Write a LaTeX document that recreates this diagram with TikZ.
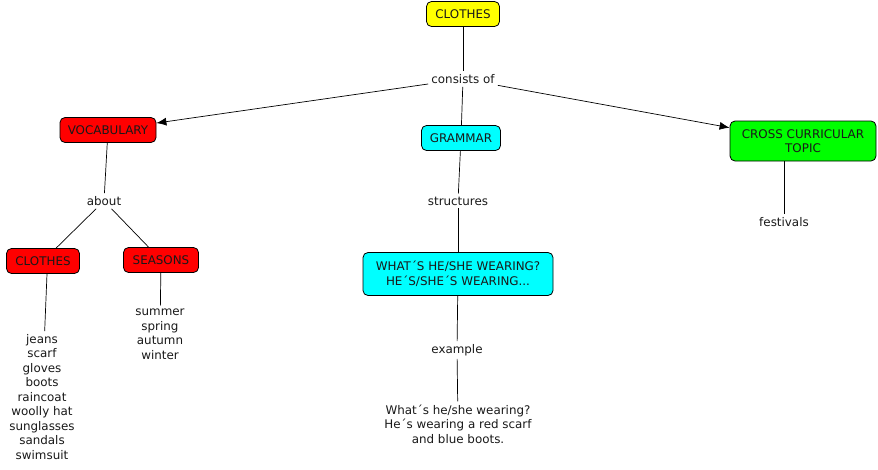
\documentclass[tikz,border=0pt]{standalone}
\usepackage{fontspec}
\setmainfont{DejaVu Sans}
\usetikzlibrary{arrows.meta}
\definecolor{cmyellow}{RGB}{255,255,0}
\definecolor{cmred}{RGB}{255,0,0}
\definecolor{cmcyan}{RGB}{0,255,255}
\definecolor{cmgreen}{RGB}{0,255,0}
\definecolor{cmtext}{RGB}{25,25,25}
\newcommand{\cmfont}{\fontsize{11.9}{14.5}\selectfont}

\begin{document}
\begin{tikzpicture}[x=1pt,y=-1pt,
  concept/.style={draw=black,line width=0.8pt,rounded corners=5pt,minimum height=25pt,inner xsep=7pt,font=\cmfont,text=cmtext},
  linkword/.style={font=\cmfont,text=cmtext,inner sep=3pt},
  plain/.style={font=\cmfont,text=cmtext,align=center,inner sep=3pt},
  conn/.style={line width=0.7pt,black},
  arr/.style={conn,-{Latex[length=10pt,width=8pt]}}]
\useasboundingbox (0,0) rectangle (878,469);
% concepts
\node[concept,fill=cmyellow,minimum width=73pt] (top) at (463,14) {CLOTHES};
\node[linkword] (consists) at (463,79) {consists of};
\node[concept,fill=cmred,minimum width=96pt] (vocab) at (108,130) {VOCABULARY};
\node[concept,fill=cmcyan,minimum width=79pt] (grammar) at (461,138) {GRAMMAR};
\node[concept,fill=cmgreen,minimum height=40pt,minimum width=146pt,align=center] (cross) at (803,141) {CROSS CURRICULAR\\TOPIC};
% vocabulary branch
\node[linkword] (about) at (104,201) {about};
\node[concept,fill=cmred,minimum width=73pt] (clothes) at (43,261) {CLOTHES};
\node[concept,fill=cmred,minimum width=75pt] (seasons) at (161,260) {SEASONS};
\node[plain] (clotheslist) at (42,397) {jeans\\scarf\\gloves\\boots\\raincoat\\woolly hat\\sunglasses\\sandals\\swimsuit};
\node[plain] (seasonlist) at (160,334) {summer\\spring\\autumn\\winter};
% grammar branch
\node[linkword] (structures) at (458,201) {structures};
\node[concept,fill=cmcyan,minimum width=190pt,minimum height=43pt,align=center] (wearing) at (458,274) {WHAT´S HE/SHE WEARING?\\HE´S/SHE´S WEARING...};
\node[linkword] (example) at (457,350) {example};
\node[plain] (sample) at (458,424) {What´s he/she wearing?\\He´s wearing a red scarf\\and blue boots.};
% cross curricular
\node[linkword] (festivals) at (784,222) {festivals};
% connectors
\draw[conn] (top) -- (consists);
\draw[arr] (consists) -- (vocab);
\draw[conn] (consists) -- (grammar);
\draw[arr] (consists) -- (cross);
\draw[conn] (vocab) -- (about);
\draw[conn] (about) -- (clothes);
\draw[conn] (about) -- (seasons);
\draw[conn] ([xshift=4pt]clothes.south) -- (clotheslist);
\draw[conn] (seasons) -- (seasonlist);
\draw[conn] (grammar) -- (structures);
\draw[conn] (structures) -- (wearing);
\draw[conn] (wearing) -- (example);
\draw[conn] (example) -- (sample);
\draw[conn] (festivals |- cross.south) -- (festivals);
\end{tikzpicture}
\end{document}
